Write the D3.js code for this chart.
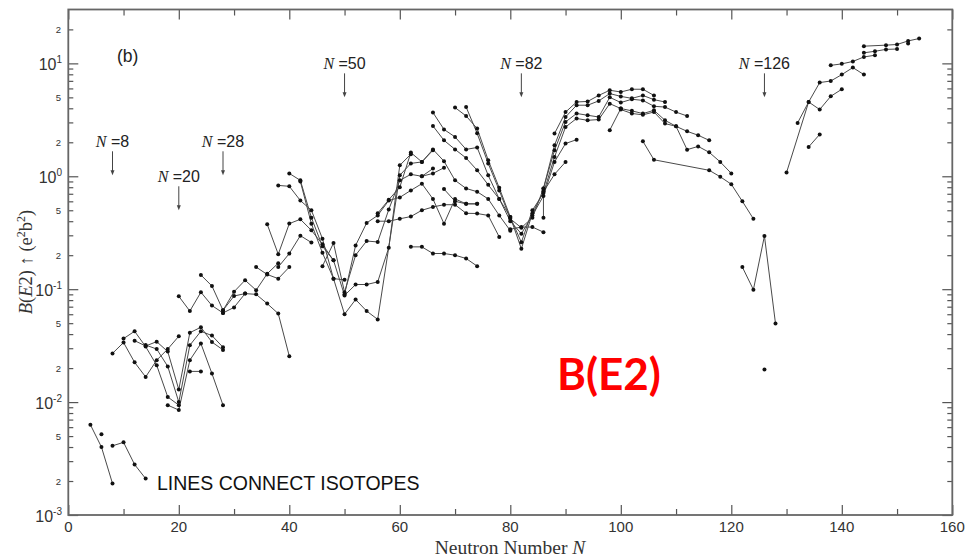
<!DOCTYPE html>
<html>
<head>
<meta charset="utf-8">
<title>B(E2) systematics</title>
<script src="https://cdnjs.cloudflare.com/ajax/libs/d3/7.8.5/d3.min.js"></script>
<style>
  body { margin: 0; background: #fff; }
  svg { display: block; }
  .tick line { stroke: #555; stroke-width: 1.2; }
</style>
</head>
<body>
<script>
  // isotope chains, [N, B(E2) in e2b2]
  const light1 = [[4,0.0063],[6,0.004],[8,0.0019]];
  const light2 = [[6,0.0052]];
  const light3 = [[8,0.0041],[10,0.0044],[12,0.0028],[14,0.0021]];
  const light4 = [[8,0.027],[10,0.0337],[12,0.0225],[14,0.0167],[16,0.0235],[18,0.0295],[20,0.0383]];
  const light5 = [[10,0.0365],[12,0.0424],[14,0.031],[16,0.0212],[18,0.0111],[20,0.0094]];
  const light6 = [[12,0.035],[14,0.0314],[16,0.0343],[18,0.028],[20,0.0129],[22,0.0412],[24,0.046],[26,0.034],[28,0.029]];
  const light7 = [[14,0.032],[16,0.0295],[18,0.0207],[20,0.01],[22,0.0319],[24,0.0424],[26,0.0388],[28,0.0306]];
  const light8 = [[18,0.0094],[20,0.0085],[22,0.0235],[24,0.033],[26,0.0179],[28,0.0094]];
  const light9 = [[22,0.0187],[24,0.0187]];

  const fp1 = [[20,0.0865],[22,0.064],[24,0.094],[26,0.0716],[28,0.0616]];
  const fp2 = [[24,0.1336],[26,0.1067],[28,0.065],[30,0.087],[32,0.0914]];
  const fp3 = [[28,0.0616],[30,0.069],[32,0.0914],[34,0.09],[36,0.0745],[38,0.0608],[40,0.0255]];
  const fp4 = [[28,0.065],[30,0.095],[32,0.12],[34,0.098],[36,0.137],[38,0.17]];
  const fp5 = [[34,0.157],[36,0.135],[38,0.124],[40,0.157]];

  const mid1 = [[36,0.376],[38,0.204],[40,0.381],[42,0.416],[44,0.332],[46,0.25],[48,0.18]];
  const mid2 = [[38,0.157],[40,0.207],[42,0.298],[44,0.259]];
  const mid3 = [[38,0.83],[40,0.815],[42,0.61],[44,0.5],[46,0.28],[48,0.124],[50,0.121]];
  const mid4 = [[40,1.06],[42,0.92],[44,0.43],[46,0.24],[48,0.18],[50,0.088],[52,0.11],[54,0.11],[56,0.116],[58,0.233],[60,1.25],[62,1.57]];
  const mid5 = [[42,0.9],[44,0.38],[46,0.21],[48,0.124],[50,0.06],[52,0.081],[54,0.064],[56,0.054],[60,1.02],[62,1.3],[64,1.34],[66,1.7]];
  const mid6 = [[46,0.16],[48,0.256],[50,0.094],[52,0.2],[54,0.267],[56,0.262],[58,0.507],[60,0.92],[62,1.04],[64,1.0],[66,1.17]];
  const mid7 = [[50,0.09],[52,0.244],[54,0.386],[56,0.45],[58,0.61],[60,0.65],[62,0.75],[64,0.86],[66,0.63],[68,0.38],[70,0.63],[72,0.57],[74,0.57]];
  const mid8 = [[56,0.47],[58,0.62],[60,0.8],[62,1.62],[64,1.34],[66,1.73],[68,1.36],[70,0.92],[72,0.78],[74,0.73],[76,0.63],[78,0.45],[80,0.33]];
  const mid9 = [[56,0.40],[58,0.40],[60,0.42],[62,0.44],[64,0.5],[66,0.535],[68,0.56],[70,0.56],[72,0.47],[74,0.468],[76,0.45],[78,0.29]];
  const mid10 = [[62,0.237],[64,0.237],[66,0.207],[68,0.207],[70,0.2],[72,0.187],[74,0.16]];
  const mid11 = [[68,0.77],[70,0.6],[72,0.57],[74,0.57]];
  const mid12 = [[64,1.0],[66,1.06],[68,1.19]];

  const rare1 = [[66,3.67],[68,2.6],[70,2.23],[72,1.73],[74,1.8],[76,1.02],[78,0.63],[80,0.40],[82,0.31],[84,0.45],[86,0.67],[88,1.34],[90,1.95],[92,2.11]];
  const rare2 = [[66,2.79],[68,2.08],[70,1.73],[72,1.45],[74,1.13],[76,0.84],[78,0.63],[80,0.436],[82,0.228],[84,0.47],[86,0.73],[88,1.04],[90,1.34]];
  const rare3 = [[70,4.06],[72,3.42],[74,2.65],[76,1.39],[78,0.79],[80,0.436],[82,0.26],[84,0.5],[86,0.71],[88,1.48],[90,2.73],[92,3.25],[94,3.13],[96,3.18],[98,4.4],[100,3.98],[102,3.8],[104,3.59],[106,3.84],[108,3.13],[110,2.77],[112,2.5],[114,2.31],[116,2.08]];
  const rare4 = [[72,4.11],[74,2.4],[76,1.3],[78,0.75],[80,0.42],[82,0.35],[84,0.43],[86,0.78],[88,1.7],[90,3.03],[92,3.6],[94,3.47],[96,3.35],[98,5.0],[100,4.5],[102,4.81],[104,4.7],[106,4.17],[108,4.1],[110,3.7],[112,3.42]];
  const rare5 = [[86,0.78],[88,1.88],[90,3.35],[92,4.26],[94,4.26],[96,4.65],[98,5.4],[100,5.1],[102,4.9],[104,5.2],[106,4.77],[108,4.55]];
  const rare6 = [[88,2.39],[90,3.7],[92,4.55],[94,4.6],[96,5.2],[98,5.78],[100,5.58],[102,5.9],[104,5.9],[106,5.2]];
  const rare7 = [[100,3.9],[102,3.6],[104,3.5],[106,3.71],[108,2.93],[110,2.77],[112,1.72],[114,1.84],[116,1.63],[118,1.34],[120,1.06]];
  const rare8 = [[98,2.56],[100,3.98]];
  const rare9 = [[80,0.34],[82,0.355],[84,0.355],[86,0.32]];
  const rare10 = [[86,0.74],[86,0.43]];

  const heavy1 = [[104,2.04],[106,1.4],[116,1.13],[118,0.99],[120,0.85],[122,0.6],[124,0.42]];
  const heavy2 = [[122,0.157],[124,0.099],[126,0.296],[128,0.0496]];
  const heavy3 = [[126,0.0194]];

  const act1 = [[130,1.08],[134,4.55],[136,6.76],[138,6.98],[140,7.95],[142,9.18],[144,7.95]];
  const act2 = [[132,2.97],[134,4.55],[136,3.9],[138,5.11],[140,5.9]];
  const act3 = [[134,1.82],[136,2.35]];
  const act4 = [[138,9.6],[140,9.9],[142,10.4],[144,11.4],[146,11.8]];
  const act5 = [[144,12.4],[146,12.8],[148,13.3],[150,13.4]];
  const act6 = [[144,14.2],[148,14.5],[150,14.7],[152,15.8],[154,16.6]];
  const act7 = [[152,15.0]];

  const chains = [light1, light2, light3, light4, light5, light6, light7, light8, light9,
    fp1, fp2, fp3, fp4, fp5,
    mid1, mid2, mid3, mid4, mid5, mid6, mid7, mid8, mid9, mid10, mid11, mid12,
    rare1, rare2, rare3, rare4, rare5, rare6, rare7, rare8, rare9, rare10,
    heavy1, heavy2, heavy3,
    act1, act2, act3, act4, act5, act6, act7];

  // shell closures and the B(E2) level their arrows point at
  const magicN = [8, 20, 28, 50, 82, 126];
  const magicTip = [1.02, 0.5, 1.02, 5, 5, 5];

  const xMajor = d3.range(0, 161, 20);
  const xMinor = d3.range(10, 160, 20);
  const decades = [-3, -2, -1, 0, 1];
  const minorLabels = [2, 5];

  const width = 965, height = 557;

  const svg = d3.select("body").append("svg")
    .attr("width", width)
    .attr("height", height);

  const x = d3.scaleLinear().domain([0, 160]).range([68.3, 952.3]);
  const y = d3.scaleLog().domain([1e-3, 30]).range([515, 9.5]);

  const yMajor = decades.map(d => Math.pow(10, d));
  const yMinor = [];
  decades.forEach(d => {
    for (let m = 2; m <= 9; m++) {
      const v = m * Math.pow(10, d);
      if (v < 30) yMinor.push(v);
    }
  });

  // ticks, all pointing inside
  function ticks(axis, tr) {
    const g = svg.append("g").attr("transform", tr).call(axis);
    g.select(".domain").remove();
  }
  ticks(d3.axisBottom(x).tickValues(xMajor).tickSize(-10).tickFormat(""), "translate(0,515)");
  ticks(d3.axisBottom(x).tickValues(xMinor).tickSize(-6).tickFormat(""), "translate(0,515)");
  ticks(d3.axisTop(x).tickValues(xMajor).tickSize(-10).tickFormat(""), "translate(0,9.5)");
  ticks(d3.axisTop(x).tickValues(xMinor).tickSize(-6).tickFormat(""), "translate(0,9.5)");
  ticks(d3.axisLeft(y).tickValues(yMajor).tickSize(-10).tickFormat(""), "translate(68.3,0)");
  ticks(d3.axisLeft(y).tickValues(yMinor).tickSize(-5).tickFormat(""), "translate(68.3,0)");
  ticks(d3.axisRight(y).tickValues(yMajor).tickSize(-10).tickFormat(""), "translate(952.3,0)");
  ticks(d3.axisRight(y).tickValues(yMinor).tickSize(-5).tickFormat(""), "translate(952.3,0)");

  svg.append("rect")
    .attr("x", 68.3).attr("y", 9.5)
    .attr("width", 952.3 - 68.3).attr("height", 515 - 9.5)
    .attr("fill", "none")
    .attr("stroke", "#666")
    .attr("stroke-width", 1.8);

  // tick labels
  svg.append("g").selectAll("text")
    .data(xMajor)
    .enter().append("text")
    .attr("x", d => x(d))
    .attr("y", 531.5)
    .attr("text-anchor", "middle")
    .attr("font-family", "Liberation Sans, Arial, sans-serif")
    .attr("font-size", 15)
    .attr("fill", "#333")
    .text(d => d);

  const yl = svg.append("g").selectAll("text")
    .data(decades)
    .enter().append("text")
    .attr("x", 62)
    .attr("y", d => y(Math.pow(10, d)) + 7)
    .attr("text-anchor", "end")
    .attr("font-family", "Liberation Sans, Arial, sans-serif")
    .attr("font-size", 16)
    .attr("fill", "#333");
  yl.append("tspan").text("10");
  yl.append("tspan").attr("dy", -7).attr("font-size", 10).text(d => d);

  const minorVals = [];
  decades.forEach(d => minorLabels.forEach(m => {
    const v = m * Math.pow(10, d);
    if (v < 30) minorVals.push({ v: v, m: m });
  }));
  svg.append("g").selectAll("text")
    .data(minorVals)
    .enter().append("text")
    .attr("x", 58.5)
    .attr("y", d => y(d.v) + 3.5)
    .attr("text-anchor", "middle")
    .attr("font-family", "Liberation Sans, Arial, sans-serif")
    .attr("font-size", 9.5)
    .attr("fill", "#333")
    .text(d => d.m);

  // axis titles
  svg.append("text")
    .attr("x", 510).attr("y", 554)
    .attr("text-anchor", "middle")
    .attr("font-family", "Liberation Serif, Times New Roman, serif")
    .attr("font-size", 19.5)
    .attr("fill", "#333")
    .html('Neutron Number <tspan font-style="italic">N</tspan>');

  svg.append("text")
    .attr("transform", "translate(32,262) rotate(-90)")
    .attr("text-anchor", "middle")
    .attr("font-family", "Liberation Serif, Times New Roman, serif")
    .attr("font-size", 18.5)
    .attr("fill", "#333")
    .html('<tspan font-style="italic">B</tspan>(<tspan font-style="italic">E</tspan>2) \u2191 (e<tspan dy="-7" font-size="12">2</tspan><tspan dy="7">b</tspan><tspan dy="-7" font-size="12">2</tspan><tspan dy="7">)</tspan>');

  // isotope chains
  const line = d3.line().x(d => x(d[0])).y(d => y(d[1]));
  const plot = svg.append("g");
  plot.selectAll("path")
    .data(chains)
    .enter().append("path")
    .attr("d", line)
    .attr("fill", "none")
    .attr("stroke", "#4a4a4a")
    .attr("stroke-width", 1);
  plot.selectAll("circle")
    .data(chains.flat())
    .enter().append("circle")
    .attr("cx", d => x(d[0]))
    .attr("cy", d => y(d[1]))
    .attr("r", 2)
    .attr("fill", "#111");

  // shell closure arrows
  const marks = svg.append("g").selectAll("g")
    .data(magicN)
    .enter().append("g");
  marks.append("text")
    .attr("x", d => x(d))
    .attr("y", (d, i) => y(magicTip[i]) - 28)
    .attr("text-anchor", "middle")
    .attr("font-size", 16)
    .attr("fill", "#222")
    .html(d => '<tspan font-family="Liberation Serif, serif" font-style="italic">N</tspan><tspan font-family="Liberation Sans, Arial, sans-serif"> =' + d + '</tspan>');
  marks.append("line")
    .attr("x1", d => x(d)).attr("x2", d => x(d))
    .attr("y1", (d, i) => y(magicTip[i]) - 24)
    .attr("y2", (d, i) => y(magicTip[i]) - 3)
    .attr("stroke", "#444")
    .attr("stroke-width", 1);
  marks.append("path")
    .attr("d", (d, i) => {
      const tx = x(d), ty = y(magicTip[i]);
      return `M${tx - 2},${ty - 5}L${tx + 2},${ty - 5}L${tx},${ty}Z`;
    })
    .attr("fill", "#444");

  // annotations
  svg.append("text")
    .attr("x", 117).attr("y", 62)
    .attr("font-family", "Liberation Sans, Arial, sans-serif")
    .attr("font-size", 17.5)
    .attr("fill", "#222")
    .text("(b)");

  svg.append("text")
    .attr("x", 157).attr("y", 490)
    .attr("font-family", "Liberation Sans, Arial, sans-serif")
    .attr("font-size", 19.5)
    .attr("fill", "#111")
    .text("LINES CONNECT ISOTOPES");

  svg.append("text")
    .attr("x", 557).attr("y", 390)
    .attr("font-family", "Lato, Open Sans, sans-serif")
    .attr("font-weight", "bold")
    .attr("font-size", 44)
    .attr("fill", "#ff0000")
    .text("B(E2)");
</script>
</body>
</html>
